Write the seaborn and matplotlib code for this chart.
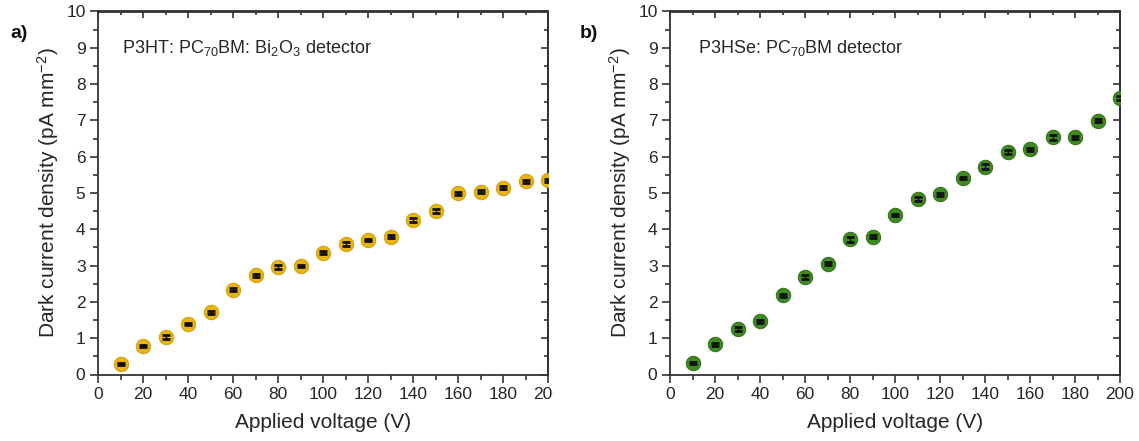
import matplotlib
matplotlib.use("Agg")
import matplotlib.pyplot as plt
import seaborn as sns
import pandas as pd
from matplotlib.ticker import MultipleLocator
from matplotlib.transforms import Bbox, TransformedBbox

# ---- data ----
voltage = [10, 20, 30, 40, 50, 60, 70, 80, 90, 100,
           110, 120, 130, 140, 150, 160, 170, 180, 190, 200]
p3ht_current = [0.28, 0.78, 1.03, 1.40, 1.71, 2.34, 2.73, 2.97, 2.99, 3.35,
                3.60, 3.70, 3.80, 4.25, 4.51, 4.99, 5.04, 5.14, 5.32, 5.35]
p3ht_err = [0.03, 0.03, 0.05, 0.03, 0.04, 0.04, 0.04, 0.05, 0.03, 0.04,
            0.05, 0.03, 0.04, 0.06, 0.05, 0.04, 0.05, 0.04, 0.05, 0.04]
p3hse_current = [0.32, 0.83, 1.25, 1.47, 2.18, 2.69, 3.05, 3.72, 3.79, 4.40,
                 4.83, 4.97, 5.41, 5.73, 6.13, 6.21, 6.53, 6.53, 6.99, 7.62]
p3hse_err = [0.03, 0.04, 0.06, 0.04, 0.04, 0.05, 0.04, 0.06, 0.04, 0.03,
             0.05, 0.04, 0.03, 0.06, 0.05, 0.04, 0.06, 0.05, 0.04, 0.05]
panel_labels = ["a)", "b)"]
titles = ["P3HT: PC$_{70}$BM: Bi$_2$O$_3$ detector", "P3HSe: PC$_{70}$BM detector"]
xlabel = "Applied voltage (V)"
ylabel = "Dark current density (pA mm$^{-2}$)"

sns.set_theme(style="white")
plt.rcParams["font.family"] = ["Liberation Sans", "DejaVu Sans"]
plt.rcParams["mathtext.fontset"] = "custom"
plt.rcParams["mathtext.rm"] = "Liberation Sans"
plt.rcParams["mathtext.it"] = "Liberation Sans:italic"

W, H = 1139, 441
fig = plt.figure(figsize=(W / 100, H / 100), dpi=100)
ax_a = fig.add_axes([98 / W, 66.5 / H, 450 / W, 363 / H])
ax_b = fig.add_axes([670 / W, 66.5 / H, 450 / W, 363 / H])

text_col = "#262626"
spine_col = "#333333"

series = [
    (ax_a, p3ht_current, p3ht_err, "#E8B40E", "#C99A05"),
    (ax_b, p3hse_current, p3hse_err, "#3E8C20", "#2A6614"),
]
title_x = [0.053, 0.062]

for i, (ax, cur, err, fc, ec) in enumerate(series):
    df = pd.DataFrame({"V": voltage, "J": cur, "err": err})
    sns.scatterplot(data=df, x="V", y="J", ax=ax, s=110, color=fc,
                    edgecolor=ec, linewidth=0.6, zorder=3, legend=False)
    ax.errorbar(df["V"], df["J"], yerr=df["err"], fmt="none", ecolor="#111111",
                elinewidth=1.0, capsize=3.0, capthick=2.0, zorder=4)
    ax.set_xlim(0, 200)
    ax.set_ylim(0, 10)
    ax.xaxis.set_major_locator(MultipleLocator(20))
    ax.xaxis.set_minor_locator(MultipleLocator(10))
    ax.yaxis.set_major_locator(MultipleLocator(1))
    ax.yaxis.set_minor_locator(MultipleLocator(0.5))
    ax.tick_params(which="both", direction="out", color=spine_col, width=1.2,
                   labelsize=12.5, labelcolor=text_col, pad=3)
    ax.tick_params(which="major", length=6)
    ax.tick_params(which="minor", length=3.5)
    ax.tick_params(axis="x", bottom=True, which="both")
    ax.tick_params(axis="y", left=True, which="both")
    for s in ax.spines.values():
        s.set_color(spine_col)
        s.set_linewidth(1.3)
    # inward ticks on top and right
    secx = ax.secondary_xaxis("top")
    secy = ax.secondary_yaxis("right")
    secx.xaxis.set_major_locator(MultipleLocator(20))
    secx.xaxis.set_minor_locator(MultipleLocator(10))
    secy.yaxis.set_major_locator(MultipleLocator(1))
    secy.yaxis.set_minor_locator(MultipleLocator(0.5))
    for sec in (secx, secy):
        sec.tick_params(which="both", direction="in", color=spine_col, width=1.2,
                        labeltop=False, labelright=False, labelbottom=False, labelleft=False)
        sec.tick_params(which="major", length=5)
        sec.tick_params(which="minor", length=3)
        for s in sec.spines.values():
            s.set_color(spine_col)
            s.set_linewidth(1.3)
    ax.set_xlabel(xlabel, fontsize=15, color=text_col, labelpad=8)
    ax.set_ylabel(ylabel, fontsize=15, color=text_col, labelpad=4)
    ax.text(title_x[i], 0.9, titles[i], transform=ax.transAxes,
            fontsize=13, color=text_col, ha="left", va="center")
    ax.grid(False)

fig.text(10 / W, 1 - 33 / H, panel_labels[0], fontsize=14, fontweight="bold",
         color="#111111", ha="left", va="center")
fig.text(580 / W, 1 - 33 / H, panel_labels[1], fontsize=14, fontweight="bold",
         color="#111111", ha="left", va="center")

# panel a is cropped at its right edge: clip its last tick label
fig.canvas.draw()
clip = TransformedBbox(Bbox([[0, 0], [553 / W, 1]]), fig.transFigure)
for lab in ax_a.get_xticklabels():
    lab.set_clip_on(True)
    lab.set_clip_box(clip)

fig.savefig("out.png", dpi=100)
